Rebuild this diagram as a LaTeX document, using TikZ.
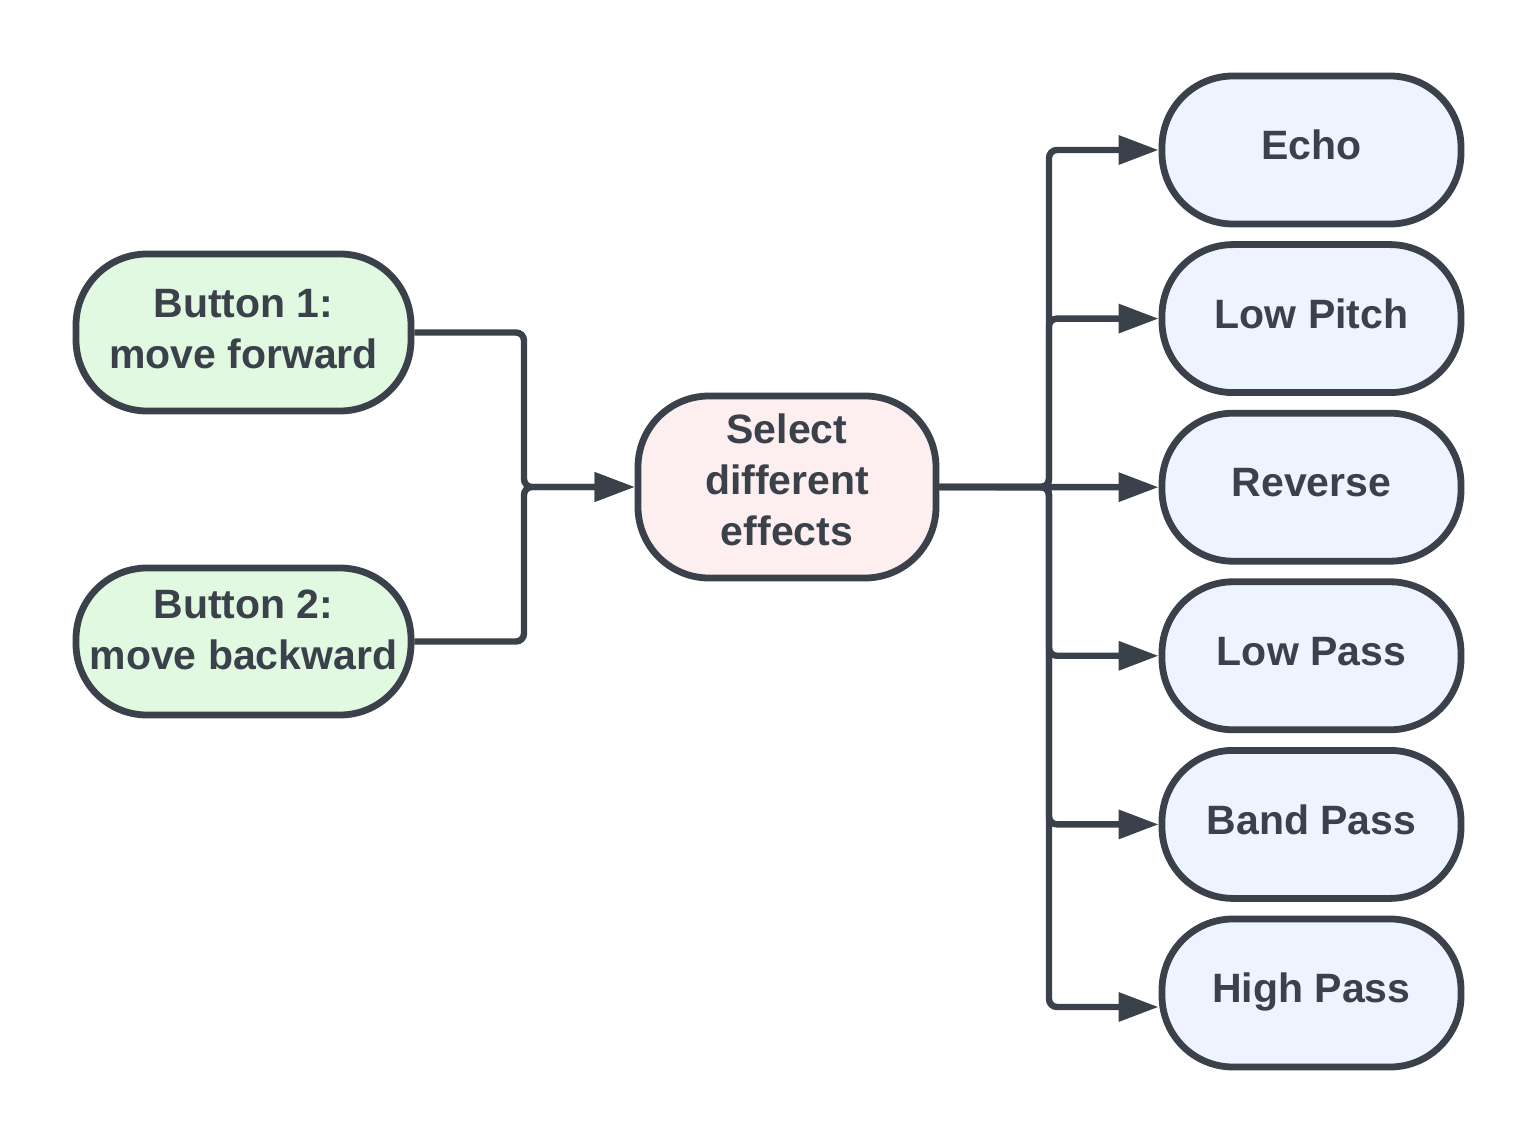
\documentclass[tikz,border=0pt]{standalone}
\usepackage{fontspec}
\setmainfont{Liberation Sans}
\usetikzlibrary{arrows.meta,calc}
\definecolor{ink}{HTML}{3A414A}
\definecolor{gfill}{HTML}{E1F9E1}
\definecolor{pfill}{HTML}{FDEFEF}
\definecolor{bfill}{HTML}{EDF4FF}
\begin{document}
\begin{tikzpicture}[x=0.5pt,y=-0.5pt,
  box/.style={draw=ink, line width=3.4pt, rounded corners=35.5pt, inner sep=0pt},
  txt/.style={inner sep=0pt, text=ink, font=\fontsize{20.5}{25.5}\selectfont\bfseries, align=center},
  effect/.style={box, txt, text height=15pt, text depth=5.3pt, fill=bfill, minimum width=149.5pt, minimum height=74pt},
  conn/.style={draw=ink, line width=3.2pt, rounded corners=4pt},
  arr/.style={conn, -{Triangle[length=20pt,width=14pt]}}]
\useasboundingbox (0,0) rectangle (1538,1144);

\node[box, fill=gfill, minimum width=167.5pt, minimum height=78.5pt] (b1) at (243.5,332.5) {};
\node[txt] (b1t) at (243.5,329.5) {Button 1:\\move forward};
\node[box, fill=gfill, minimum width=167.5pt, minimum height=73.5pt] (b2) at (243.5,641.5) {};
\node[txt] (b2t) at (243.5,629.5) {Button 2:\\move backward};
\node[box, fill=pfill, minimum width=149pt, minimum height=91pt] (c) at (787,487) {};
\node[txt] (ct) at (787,480) {Select\\different\\effects};

\node[effect] (e1) at (1311.5,150) {Echo};
\node[effect] (e2) at (1311.5,318.6) {Low Pitch};
\node[effect] (e3) at (1311.5,487.2) {Reverse};
\node[effect] (e4) at (1311.5,655.8) {Low Pass};
\node[effect] (e5) at (1311.5,824.4) {Band Pass};
\node[effect] (e6) at (1311.5,993) {High Pass};

\coordinate (jl) at (524,487);
\coordinate (jr) at (1049,487);

\draw[arr] (b1.east) -- (jl |- b1.east) -- (jl) -- (c.west);
\draw[arr] (b2.east) -- (jl |- b2.east) -- (jl) -- (c.west);

\draw[arr] (c.east) -- (jr) -- (jr |- e1.west) -- (e1.west);
\draw[arr] (c.east) -- (jr) -- (jr |- e2.west) -- (e2.west);
\draw[arr] (c.east) -- (e3.west);
\draw[arr] (c.east) -- (jr) -- (jr |- e4.west) -- (e4.west);
\draw[arr] (c.east) -- (jr) -- (jr |- e5.west) -- (e5.west);
\coordinate (hp) at ($(e6.west)+(0,14)$);
\draw[arr] (c.east) -- (jr) -- (jr |- hp) -- (hp);
\end{tikzpicture}
\end{document}
